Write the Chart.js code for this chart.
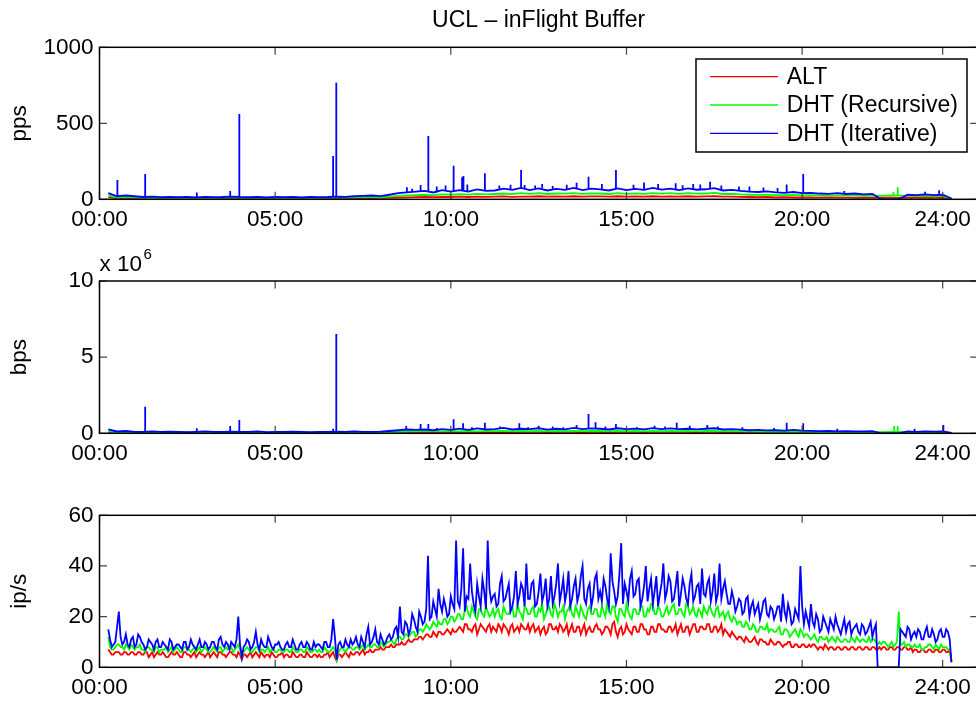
<!DOCTYPE html>
<html><head><meta charset="utf-8">
<script src="https://cdn.jsdelivr.net/npm/chart.js@4.4.0/dist/chart.umd.min.js"></script>
<style>
html,body{margin:0;padding:0;background:#fff;overflow:hidden;width:976px;height:701px;}
canvas{position:absolute;left:0;top:0;}
</style></head><body>
<canvas id="c1" width="990" height="701"></canvas>
<canvas id="c2" width="990" height="701"></canvas>
<canvas id="c3" width="990" height="701"></canvas>
<script>
// ---------- tick labels ----------
const xTickHours = [0, 5, 10, 15, 20, 24];
const xTickLabels = ['00:00', '05:00', '10:00', '15:00', '20:00', '24:00'];
const seriesLabels = ['ALT', 'DHT (Recursive)', 'DHT (Iterative)'];

// ---------- ip/s : samples every 0.1 h starting 0.25 h, plus the in-between samples (0.30 h, 0.40 h ...) ----------
const IP_START = 0.25, IP_STEP = 0.1, IP_HALF_START = 0.30;
const ipRed = [
 7,5,6,6,5,6,5,6,5,6, 5,6,5,4,6,5,5,4,6,5, 5,4,6,5,5,4,6,5,5,4, 6,4,6,5,5,6,5,6,3,5,
 5,4,6,4,5,5,4,5,4,5, 4,5,4,5,4,5,4,5,4,5, 5,4,5,4,6,2.5,5,5,5,6, 5,6,6,5,6,6,7,7,7,8,
 8,8,9,9,9,10,10,11,11,12, 12,13,12,13,14,13,14,14,15,14, 16,14,17,15,16,13,17,15,16,14,
 15,17,14,16,13,17,15,14,16,15, 14,17,15,13,16,14,17,15,14,16, 15,13,17,14,16,15,13,16,14,17,
 15,14,16,13,18,12,16,14,15,13, 16,14,17,15,13,16,14,17,15,14, 16,15,13,17,14,16,15,17,14,16,
 15,17,14,16,15,13,14,12,13,11, 12,10,11,10,12,9,11,10,9,10, 9,10,8,9,10,8,9,8,9,8,
 8,9,7,8,9,7,8,7,8,7, 8,7,8,7,8,7,8,7,8,7, 7,8,7,8,7,8,7,8,7,6, 7,6,7,6,7,6,7,6,7,6, 2];
const ipRedHalf = [
 6,5,6,5,6,5,6,5,6,5, 6,4,6,5,5,6,4,5,5,6, 4,6,5,4,6,5,5,4,6,5, 5,6,5,4,6,5,4,5,5,4,
 6,5,5,6,4,5,6,4,5,6, 5,4,6,4,5,4,6,4,5,4, 4,5,6,5,4,5,4,6,4,5, 6,5,7,6,7,6,7,8,7,8,
 9,8,9,10,9,11,10,11,12,11, 13,12,14,12,14,13,15,13,14,15, 15,17,15,14,17,15,16,14,17,16,
 14,16,17,15,16,14,16,17,15,17, 16,14,16,15,13,17,15,16,17,14, 17,15,14,16,13,17,15,14,16,15,
 13,16,15,17,14,15,13,17,14,16, 14,17,15,13,16,14,17,15,14,16, 14,17,15,14,16,13,17,14,16,15,
 17,14,16,14,17,15,13,14,12,12, 11,12,10,11,10,11,10,9,11,9, 10,9,9,10,8,9,8,9,8,9,
 9,8,8,7,8,8,7,8,7,8, 7,8,7,8,7,8,7,8,7,8, 8,7,8,7,8,7,8,7,8,7, 6,7,6,7,6,7,6,7,6,7];
const ipGreen = [
 12,7,8,9,8,9,7,8,8,9, 7,8,7,6,8,7,7,6,8,7, 7,6,8,7,7,6,8,7,7,6, 8,6,8,7,7,8,7,9,4,7,
 7,6,8,6,7,7,6,7,6,7, 6,7,6,7,6,7,6,7,6,7, 7,6,7,6,8,3,7,7,7,8, 7,8,8,7,9,8,9,8,9,9,
 10,10,11,12,11,13,13,14,13,15, 15,16,16,17,18,17,19,18,20,19, 21,19,24,20,22,19,23,20,22,21,
 20,23,19,22,21,24,20,22,19,23, 21,24,20,22,19,23,21,25,20,22, 19,23,21,24,20,22,19,24,21,23,
 20,22,25,21,24,18,23,20,22,19, 23,21,24,20,22,25,21,23,20,24, 22,25,21,23,20,24,22,21,23,20,
 22,24,21,23,20,22,21,19,20,17, 18,16,17,15,16,14,16,15,14,15, 14,16,13,15,12,14,13,15,12,13,
 11,13,10,12,11,10,12,10,11,10, 11,10,11,12,10,11,10,10,11,9, 9,10,8,10,9,22,9,8,9,8, 8,9,7,8,9,7,8,9,8,7, 3];
const ipGreenHalf = [
 8,7,9,8,7,8,9,7,8,7, 6,8,7,8,6,7,8,7,6,8, 6,8,7,6,8,7,6,8,6,7, 7,8,6,8,7,6,8,7,6,8,
 6,7,8,7,6,8,7,6,7,6, 7,6,8,6,7,6,8,6,7,6, 6,8,6,7,7,6,8,6,8,7, 8,7,9,8,8,9,8,10,8,10,
 11,9,12,11,13,12,14,12,15,14, 17,15,18,16,17,19,17,20,18,21, 19,23,21,24,20,23,21,24,20,23,
 22,20,24,21,23,20,25,21,24,21, 23,20,23,25,21,24,20,23,22,24, 22,25,20,22,24,20,23,21,23,20,
 24,20,22,24,20,23,21,25,20,23, 21,24,20,23,25,21,24,20,22,21, 24,21,23,21,25,21,24,20,22,24,
 21,23,20,24,21,19,22,18,19,18, 16,18,15,17,14,16,15,17,15,14, 15,13,15,14,13,15,12,14,13,12,
 12,11,12,11,12,11,11,12,10,11, 10,12,10,11,11,10,12,11,10,10, 10,9,9,8,10,9,10,9,8,9, 8,7,8,9,8,9,7,8,8,7];
const ipBlue = [
 15,8,10,22,9,13,8,12,9,12, 9,8,10,7,11,8,9,7,10,8, 9,7,10,8,9,7,11,8,9,8, 10,7,12,8,9,10,8,20,4,9,
 10,8,14,7,9,8,10,7,9,8, 7,10,8,9,7,10,8,9,7,8, 9,7,10,8,19,3,10,8,9,11, 10,9,12,8,16,10,15,9,11,10,
 13,12,16,24,13,17,15,19,14,20, 18,44,20,23,31,22,24,21,25,50, 24,47,28,41,25,33,24,30,50,26,
 29,25,36,27,33,24,38,28,31,41, 27,34,25,37,29,24,36,28,41,30, 26,38,27,35,29,40,25,33,28,37,
 30,35,27,45,30,28,49,33,26,38, 29,35,27,40,31,25,36,29,41,30, 34,27,38,29,32,25,37,28,33,39,
 28,35,30,26,41,31,29,25,27,24, 26,22,28,24,21,25,22,27,20,23, 21,24,29,19,22,18,21,40,17,19,
 25,16,19,15,18,14,17,20,15,16, 14,18,15,17,13,16,14,18,15,0, 0,0,0,0,0,0,14,12,15,13, 12,14,11,16,12,13,11,15,12,14, 2];
const ipBlueHalf = [
 11,9,16,12,10,9,11,8,13,10, 7,11,9,10,8,10,8,11,7,9, 8,10,7,11,8,9,8,10,7,10, 8,11,9,10,7,9,11,9,8,11,
 7,10,9,11,8,12,8,9,10,7, 9,8,11,7,9,8,10,7,10,9, 8,10,8,11,12,9,8,11,8,9, 12,8,10,13,9,12,10,13,9,12,
 11,15,12,14,18,13,21,16,22,17, 23,19,26,20,25,27,20,28,23,26, 31,22,27,30,22,28,35,23,31,28,
 24,33,26,30,22,28,25,33,24,27, 33,24,30,26,35,27,25,33,26,35, 30,24,32,26,36,27,31,24,35,27,
 26,32,24,34,25,37,25,30,35,28, 34,24,32,26,35,30,24,33,27,36, 26,32,24,35,27,33,26,32,25,29,
 33,26,37,29,27,34,25,30,22,27, 21,27,20,26,23,19,26,21,24,19, 24,18,22,25,17,23,19,24,22,16,
 18,21,14,20,16,19,15,17,13,19, 17,13,16,14,17,13,16,12,17,0, 0,0,0,0,0,15,13,16,11,14, 15,11,14,12,15,10,14,12,15,11];

// ---------- pps / bps : samples every 0.25 h starting 0.25 h ----------
const Q_START = 0.25, Q_STEP = 0.25;
const ppsRed = [12,6,7,6, 6,5,6,5, 6,5,6,5, 6,5,6,5, 6,5,6,5, 6,5,6,5, 6,5,6,5, 7,8,8,9, 10,12,13,14, 15,14,16,15,
 17,15,18,16, 17,19,16,18, 18,20,17,19, 18,20,17,19, 19,17,20,18, 19,17,20,18, 19,18,20,17, 19,20,17,18,
 16,15,14,15, 13,14,12,13, 12,11,12,11, 11,10,11,10, 10,11,10,11, 10,11,9,10, 2];
const ppsGreen = [25,12,14,12, 10,11,10,11, 10,11,10,11, 10,11,12,10, 10,11,10,11, 10,11,10,11, 10,11,12,11, 13,14,15,14,
 18,22,25,28, 30,28,32,30, 34,31,36,33, 35,38,34,40, 36,40,35,38, 37,41,36,39, 38,35,40,36, 39,36,41,37,
 40,36,41,37, 38,42,35,36, 32,30,29,31, 28,27,29,26, 27,25,24,26, 24,25,23,24, 22,25,24,22, 21,23,20,22, 4];
const ppsBlue = [40,20,25,20, 15,18,14,16, 14,15,13,16, 14,15,18,15, 14,16,13,15, 14,15,13,16, 14,15,18,16, 20,22,25,21,
 30,40,45,50, 55,45,60,50, 60,50,65,55, 58,70,62,75, 60,72,58,68, 62,75,60,70, 65,58,72,60, 68,62,75,64,
 70,60,72,63, 66,74,58,62, 55,50,48,52, 45,42,48,40, 42,38,36,40, 35,38,33,36, 0,0,0,30, 28,32,27,30, 5];
const ppsSpikeHours = [0.51,1.30,2.77,3.72,3.98,6.65,6.74,8.75,8.9,9.14,9.36,9.6,9.85,10.08,10.32,10.36,10.47,10.97,11.38,11.7,
 12.0,12.1,12.4,12.6,12.9,13.3,13.58,13.92,14.3,14.7,15.2,15.5,15.9,16.4,16.6,16.9,17.1,17.38,17.7,18.2,18.5,18.9,19.3,19.56,20.03,21.2,23.5,23.9];
const ppsSpikeBlue = [127,166,45,54,561,285,767,80,70,94,416,85,90,221,145,153,97,171,90,95,
 193,94,90,100,88,95,109,149,100,193,95,110,100,105,92,100,98,116,90,85,85,78,75,98,166,55,50,60];
const ppsGreenSpikeHours = [22.6, 22.72];
const ppsGreenSpike = [50, 79];

// bps values in units of 10^6
const bpsRed = [0.06,0.03,0.04,0.03, 0.03,0.04,0.03,0.03, 0.03,0.04,0.03,0.03, 0.03,0.04,0.04,0.03, 0.03,0.04,0.03,0.03, 0.03,0.04,0.03,0.03,
 0.03,0.04,0.04,0.03, 0.04,0.04,0.05,0.04, 0.05,0.06,0.06,0.07, 0.07,0.07,0.08,0.07, 0.08,0.08,0.09,0.08, 0.08,0.09,0.08,0.09,
 0.09,0.09,0.08,0.09, 0.09,0.1,0.08,0.09, 0.09,0.08,0.09,0.09, 0.09,0.08,0.1,0.09, 0.09,0.09,0.1,0.08, 0.09,0.1,0.08,0.09,
 0.08,0.07,0.07,0.07, 0.06,0.07,0.06,0.06, 0.06,0.05,0.06,0.05, 0.05,0.05,0.05,0.05, 0.05,0.05,0.05,0.05, 0.05,0.05,0.04,0.05, 0.01];
const bpsGreen = [0.12,0.06,0.07,0.06, 0.05,0.06,0.05,0.06, 0.05,0.06,0.05,0.06, 0.05,0.06,0.07,0.05, 0.05,0.06,0.05,0.06, 0.05,0.06,0.05,0.06,
 0.05,0.06,0.07,0.06, 0.07,0.07,0.08,0.07, 0.08,0.1,0.11,0.12, 0.12,0.13,0.12,0.14, 0.13,0.15,0.13,0.14, 0.14,0.16,0.13,0.15,
 0.14,0.16,0.13,0.15, 0.14,0.16,0.14,0.15, 0.15,0.13,0.16,0.14, 0.15,0.13,0.16,0.14, 0.15,0.14,0.16,0.13, 0.15,0.16,0.13,0.14,
 0.12,0.11,0.11,0.1, 0.1,0.1,0.11,0.09, 0.09,0.08,0.09,0.08, 0.08,0.08,0.07,0.08, 0.08,0.1,0.09,0.08, 0.07,0.08,0.07,0.08, 0.01];
const bpsBlue = [0.25,0.12,0.15,0.1, 0.1,0.12,0.09,0.11, 0.1,0.08,0.1,0.12, 0.09,0.1,0.11,0.09, 0.1,0.12,0.08,0.1, 0.09,0.11,0.1,0.08,
 0.1,0.09,0.11,0.1, 0.12,0.1,0.09,0.11, 0.15,0.2,0.25,0.22, 0.25,0.2,0.28,0.22, 0.3,0.22,0.32,0.25, 0.28,0.35,0.25,0.3,
 0.27,0.33,0.24,0.3, 0.26,0.35,0.28,0.32, 0.3,0.25,0.33,0.27, 0.31,0.26,0.34,0.28, 0.32,0.27,0.3,0.26, 0.3,0.33,0.25,0.27,
 0.24,0.2,0.22,0.19, 0.2,0.18,0.22,0.17, 0.16,0.14,0.15,0.13, 0.14,0.12,0.13,0.14, 0,0,0,0.12, 0.1,0.12,0.11,0.13, 0.02];
const bpsSpikeHours = [1.30,2.77,3.72,3.98,6.65,6.74,8.73,8.9,9.14,9.36,9.6,10.08,10.35,10.6,10.97,11.4,11.95,12.2,12.5,12.9,13.2,13.58,13.92,14.12,
 14.4,14.7,15.3,15.8,16.1,16.43,16.8,17.3,17.6,18.3,19.2,19.56,20.03,21.0,23.2,24.02];
const bpsSpikeBlue = [1.75,0.33,0.48,0.87,0.3,6.52,0.48,0.3,0.61,0.61,0.35,0.92,0.66,0.4,0.7,0.45,0.66,0.4,0.5,0.45,0.4,0.55,1.27,0.72,
 0.45,0.61,0.4,0.5,0.45,0.7,0.5,0.55,0.45,0.4,0.35,0.7,0.66,0.3,0.3,0.55];
const bpsGreenSpikeHours = [22.62, 22.72];
const bpsGreenSpike = [0.48, 0.48];

// ---------- styling ----------
const FONT = '"Liberation Sans", Arial, Helvetica, sans-serif';
const COLORS = ['#ff0000', '#00ff00', '#0000ff'];
const LINE_W = 1.8;
const PLOT_LEFT = 99.5, PLOT_RIGHT = 977.8, CANVAS_W = 990, CANVAS_H = 701, XAXIS_H = 30;

function hoursFor(start, step, n) { const h = []; for (let i = 0; i < n; i++) h.push(+(start + step * i).toFixed(3)); return h; }
function pts(hours, values) { return values.map((v, i) => ({ x: hours[i], y: v })); }
function merged(h1, v1, h2, v2) { return pts(h1, v1).concat(pts(h2, v2)).sort((a, b) => a.x - b.x); }
function spikePts(hours, peaks, baseHours, baseValues) {
  const out = [];
  hours.forEach((h, i) => {
    let k = 0, best = Infinity;
    baseHours.forEach((bh, j) => { const d = Math.abs(bh - h); if (d < best) { best = d; k = j; } });
    out.push({ x: h, y: baseValues[k] }, { x: h, y: peaks[i] }, { x: h, y: null });
  });
  return out;
}
function ds(label, data, ci, order) {
  return { label, data, borderColor: COLORS[ci], backgroundColor: COLORS[ci], borderWidth: LINE_W,
           pointRadius: 0, tension: 0, fill: false, order, spanGaps: false };
}

const framePlugin = {
  id: 'matlabFrame',
  afterDatasetsDraw(chart) {
    const { ctx, chartArea: a, scales: { x, y } } = chart;
    const TL = 7.5;
    ctx.save();
    ctx.strokeStyle = '#444'; ctx.lineWidth = 1.2;
    ctx.beginPath();
    x.ticks.forEach(t => { const px = x.getPixelForValue(t.value);
      ctx.moveTo(px, a.bottom); ctx.lineTo(px, a.bottom - TL);
      ctx.moveTo(px, a.top); ctx.lineTo(px, a.top + TL); });
    y.ticks.forEach(t => { const py = y.getPixelForValue(t.value);
      ctx.moveTo(a.left, py); ctx.lineTo(a.left + TL, py);
      ctx.moveTo(a.right, py); ctx.lineTo(a.right - TL, py); });
    ctx.stroke();
    ctx.strokeStyle = '#000'; ctx.lineWidth = 1.5;
    ctx.strokeRect(a.left, a.top, a.right - a.left, a.bottom - a.top);
    ctx.restore();
  }
};

const legendPlugin = {
  id: 'boxLegend',
  afterDraw(chart) {
    const ctx = chart.ctx;
    const items = chart.data.datasets.filter(d => d.label);
    const bx = 696, by = 59, bw = 271, bh = 93, rowH = 28.3, y0 = 76.7;
    ctx.save();
    ctx.fillStyle = '#fff';
    ctx.fillRect(bx, by, bw, bh);
    ctx.strokeStyle = '#000'; ctx.lineWidth = 1.5;
    ctx.strokeRect(bx, by, bw, bh);
    ctx.font = '23px ' + FONT; ctx.textBaseline = 'middle'; ctx.textAlign = 'left';
    items.forEach((d, i) => {
      const yy = y0 + i * rowH;
      ctx.strokeStyle = d.borderColor; ctx.lineWidth = 1.3;
      ctx.beginPath(); ctx.moveTo(710, yy); ctx.lineTo(778, yy); ctx.stroke();
      ctx.fillStyle = '#000'; ctx.fillText(d.label, 786.7, yy + 1);
    });
    ctx.restore();
  }
};

const exponentPlugin = {
  id: 'exponent',
  afterDraw(chart) {
    const { ctx, chartArea: a } = chart;
    ctx.save();
    ctx.fillStyle = '#000'; ctx.textBaseline = 'alphabetic'; ctx.textAlign = 'left';
    ctx.font = '22.5px ' + FONT;
    ctx.fillText('x 10', a.left, a.top - 10.3);
    const w = ctx.measureText('x 10').width;
    ctx.font = '15px ' + FONT;
    ctx.fillText('6', a.left + w + 1.5, a.top - 22.5);
    ctx.restore();
  }
};

function makeChart(id, o) {
  return new Chart(document.getElementById(id), {
    type: 'line',
    data: { datasets: o.datasets },
    options: {
      responsive: false, animation: false, devicePixelRatio: 1, events: [],
      layout: { padding: { left: 0, right: CANVAS_W - PLOT_RIGHT, top: o.padTop, bottom: o.padBottom } },
      plugins: { legend: { display: false }, tooltip: { enabled: false }, title: o.title || { display: false } },
      scales: {
        x: { type: 'linear', min: 0, max: 25,
             grid: { display: false, drawTicks: false }, border: { display: false },
             afterBuildTicks: s => { s.ticks = xTickHours.map(v => ({ value: v })); },
             afterFit: s => { s.height = XAXIS_H; },
             ticks: { autoSkip: false, maxRotation: 0, minRotation: 0, padding: 7, color: '#000',
                      font: { family: FONT, size: 22.5 }, callback: (v, i) => xTickLabels[i] } },
        y: { type: 'linear', min: o.yMin, max: o.yMax,
             grid: { display: false, drawTicks: false }, border: { display: false },
             afterFit: s => { s.width = PLOT_LEFT; },
             ticks: { stepSize: o.yStep, padding: 6, color: '#000', font: { family: FONT, size: 22.5 },
                      callback: v => String(v) },
             title: { display: true, text: o.yTitle, color: '#000', font: { family: FONT, size: 22.5 },
                      padding: { top: 6, bottom: 0 } } }
      }
    },
    plugins: [framePlugin].concat(o.extra || [])
  });
}

const ipHours = hoursFor(IP_START, IP_STEP, ipBlue.length);
const ipHalfHours = hoursFor(IP_HALF_START, IP_STEP, ipBlueHalf.length);
const qHours = hoursFor(Q_START, Q_STEP, ppsBlue.length);

makeChart('c1', {
  padTop: 0, padBottom: CANVAS_H - 199.3 - XAXIS_H, yMin: 0, yMax: 1000, yStep: 500, yTitle: 'pps',
  title: { display: true, text: 'UCL \u2013 inFlight Buffer', color: '#000', fullSize: false,
           font: { family: FONT, size: 23, weight: 'normal' }, padding: { top: 7, bottom: 12.7 } },
  datasets: [
    ds(seriesLabels[0], pts(qHours, ppsRed), 0, 3),
    ds(seriesLabels[1], pts(qHours, ppsGreen), 1, 2),
    ds(seriesLabels[2], pts(qHours, ppsBlue), 2, 1),
    ds('', spikePts(ppsGreenSpikeHours, ppsGreenSpike, qHours, ppsGreen), 1, 2),
    ds('', spikePts(ppsSpikeHours, ppsSpikeBlue, qHours, ppsBlue), 2, 1)
  ],
  extra: [legendPlugin]
});

makeChart('c2', {
  padTop: 281, padBottom: CANVAS_H - 433.3 - XAXIS_H, yMin: 0, yMax: 10, yStep: 5, yTitle: 'bps',
  datasets: [
    ds(seriesLabels[0], pts(qHours, bpsRed), 0, 3),
    ds(seriesLabels[1], pts(qHours, bpsGreen), 1, 2),
    ds(seriesLabels[2], pts(qHours, bpsBlue), 2, 1),
    ds('', spikePts(bpsGreenSpikeHours, bpsGreenSpike, qHours, bpsGreen), 1, 2),
    ds('', spikePts(bpsSpikeHours, bpsSpikeBlue, qHours, bpsBlue), 2, 1)
  ],
  extra: [exponentPlugin]
});

makeChart('c3', {
  padTop: 515.3, padBottom: CANVAS_H - 667.3 - XAXIS_H, yMin: 0, yMax: 60, yStep: 20, yTitle: 'ip/s',
  datasets: [
    ds(seriesLabels[0], merged(ipHours, ipRed, ipHalfHours, ipRedHalf), 0, 3),
    ds(seriesLabels[1], merged(ipHours, ipGreen, ipHalfHours, ipGreenHalf), 1, 2),
    ds(seriesLabels[2], merged(ipHours, ipBlue, ipHalfHours, ipBlueHalf), 2, 1)
  ]
});
</script>
</body></html>
